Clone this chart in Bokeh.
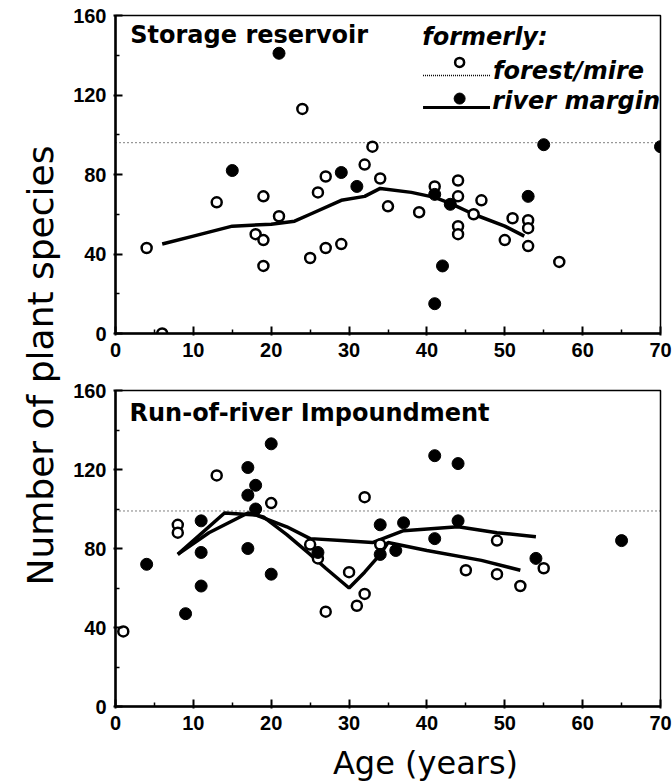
import math
from bokeh.plotting import figure
from bokeh.layouts import row, column
from bokeh.models import FixedTicker, Span, Range1d
from bokeh.core.properties import value
from bokeh.embed import file_html
from bokeh.resources import INLINE

FONT = "Liberation Sans"
HEAVY = "DejaVu Sans"

# ---------------- data ----------------
x_ticks = [0, 10, 20, 30, 40, 50, 60, 70]
x_minor = [5, 15, 25, 35, 45, 55, 65]
y_ticks = [0, 40, 80, 120, 160]
y_minor = [20, 60, 100, 140]

# Storage reservoir
top_open_x = [4, 6, 13, 18, 19, 19, 19, 21, 24, 25, 26, 27, 27, 29, 32, 33, 34, 35,
              39, 41, 44, 44, 44, 44, 46, 47, 50, 51, 53, 53, 53, 57]
top_open_y = [43, 0, 66, 50, 69, 47, 34, 59, 113, 38, 71, 43, 79, 45, 85, 94, 78, 64,
              61, 74, 77, 69, 54, 50, 60, 67, 47, 58, 57, 53, 44, 36]
top_fill_x = [15, 21, 29, 31, 41, 43, 42, 41, 53, 55, 70]
top_fill_y = [82, 141, 81, 74, 70, 65, 34, 15, 69, 95, 94]
top_line_x = [6, 10, 15, 20, 23, 25, 29, 32, 34, 38, 41, 43, 46, 50, 52.5]
top_line_y = [45, 49, 54, 55, 56.5, 60, 67, 69, 73, 71, 68.5, 65.5, 60, 54, 49]
top_ref = 96

# Run-of-river impoundment
bot_open_x = [1, 8, 8, 13, 20, 25, 26, 27, 30, 31, 32, 32, 34, 45, 49, 49, 52, 55]
bot_open_y = [38, 92, 88, 117, 103, 82, 75, 48, 68, 51, 57, 106, 82, 69, 84, 67, 61, 70]
bot_fill_x = [4, 9, 11, 11, 11, 17, 17, 17, 18, 18, 20, 20, 26, 34, 34, 36, 37,
              41, 41, 44, 44, 54, 65]
bot_fill_y = [72, 47, 61, 78, 94, 121, 107, 80, 112, 100, 133, 67, 78, 92, 77, 79, 93,
              127, 85, 123, 94, 75, 84]
bot_river_x = [8, 14, 18, 22, 25, 29, 33, 37, 44, 49, 54]
bot_river_y = [77, 98, 97, 91, 85, 84, 83, 89, 91, 88, 86]
bot_forest_x = [8, 12, 17, 19, 22, 25, 27, 30, 32, 34, 35, 40, 47, 52]
bot_forest_y = [77, 88, 98, 96, 87, 77, 70, 60, 68, 77, 83, 79, 74, 69]
bot_ref = 99

titles = ["Storage reservoir", "Run-of-river Impoundment"]
legend_head = "formerly:"
legend_labels = ["forest/mire", "river margin"]
x_label = "Age (years)"
y_label = "Number of plant species"


def panel(height, b_top, b_bottom):
    p = figure(width=610, height=height, x_range=Range1d(0, 70), y_range=Range1d(0, 160),
               output_backend="svg", toolbar_location=None,
               min_border_left=53, min_border_right=12,
               min_border_top=b_top, min_border_bottom=b_bottom)
    p.grid.visible = False
    p.outline_line_color = "black"
    p.outline_line_width = 1.5
    p.background_fill_color = "white"
    p.border_fill_color = "white"
    p.xaxis.ticker = FixedTicker(ticks=x_ticks, minor_ticks=x_minor)
    p.yaxis.ticker = FixedTicker(ticks=y_ticks, minor_ticks=y_minor)
    for ax in (p.xaxis, p.yaxis):
        ax.axis_line_width = 2.5
        ax.axis_line_color = "black"
        ax.major_tick_in = 7
        ax.major_tick_out = 2
        ax.minor_tick_in = 4
        ax.minor_tick_out = 0
        ax.major_tick_line_width = 2
        ax.minor_tick_line_width = 1.5
        ax.major_label_text_font = FONT
        ax.major_label_text_font_style = "bold"
        ax.major_label_text_font_size = "20px"
        ax.major_label_text_color = "black"
        ax.major_label_standoff = 7
    return p


def blank(width, height):
    b = figure(width=width, height=height, x_range=Range1d(0, width),
               y_range=Range1d(0, height), output_backend="svg", toolbar_location=None,
               min_border=0)
    b.axis.visible = False
    b.grid.visible = False
    b.outline_line_color = None
    return b


f1 = panel(375, 15, 42)
f2 = panel(366, 15, 35)

f1.add_layout(Span(location=top_ref, dimension="width", line_color="black",
                   line_dash="1 3", line_width=1))
f2.add_layout(Span(location=bot_ref, dimension="width", line_color="black",
                   line_dash="1 3", line_width=1))

# top panel
f1.line(top_line_x, top_line_y, line_color="black", line_width=3.5)
f1.scatter(top_open_x, top_open_y, marker="circle", size=10, fill_color="white",
           line_color="black", line_width=2.5)
f1.scatter(top_fill_x, top_fill_y, marker="circle", size=12, fill_color="black",
           line_color="black")

# bottom panel
f2.line(bot_river_x, bot_river_y, line_color="black", line_width=3.5)
f2.line(bot_forest_x, bot_forest_y, line_color="black", line_width=3.5)
f2.scatter(bot_open_x, bot_open_y, marker="circle", size=10, fill_color="white",
           line_color="black", line_width=2.5)
f2.scatter(bot_fill_x, bot_fill_y, marker="circle", size=12, fill_color="black",
           line_color="black")

# panel titles
f1.text(x=[1.9], y=[150.4], text=[titles[0]], text_font=value(HEAVY), text_font_size="24px",
        text_font_style="bold", text_baseline="middle", text_align="left", text_color="black")
f2.text(x=[1.8], y=[148.4], text=[titles[1]], text_font=value(HEAVY), text_font_size="24px",
        text_font_style="bold", text_baseline="middle", text_align="left", text_color="black")

# legend (drawn by hand, top panel)
f1.text(x=[39.4], y=[149.4], text=[legend_head], text_font=value(HEAVY), text_font_size="24px",
        text_font_style="bold italic", text_baseline="middle", text_align="left")
f1.text(x=[48.5, 48.4], y=[132.3, 117.2], text=legend_labels, text_font=value(HEAVY),
        text_font_size="24px", text_font_style="bold italic", text_baseline="middle",
        text_align="left")
f1.line([39.5, 48.1], [129.8, 129.8], line_color="black", line_width=1.5, line_dash="1 1")
f1.line([39.5, 48.1], [113.7, 113.7], line_color="black", line_width=3)
f1.scatter([44.2], [136.4], marker="circle", size=9, fill_color="white", line_color="black",
           line_width=2.5)
f1.scatter([44.2], [118.2], marker="circle", size=11, fill_color="black", line_color="black")

# x axis label strip (below bottom panel)
xl = blank(610, 43)
xl.text(x=[347], y=[22], text=[x_label], text_font=value(HEAVY), text_font_size="32px",
        text_align="center", text_baseline="middle", text_color="black")

# y axis label strip
yl = blank(62, 784)
yl.text(x=[40], y=[784 - 365], text=[y_label], angle=math.pi / 2, text_font=value(HEAVY),
        text_font_size="36px", text_align="center", text_baseline="middle",
        text_color="black")

layout = row(yl, column(f1, f2, xl))
open("out.html", "w").write(file_html(layout, INLINE))
